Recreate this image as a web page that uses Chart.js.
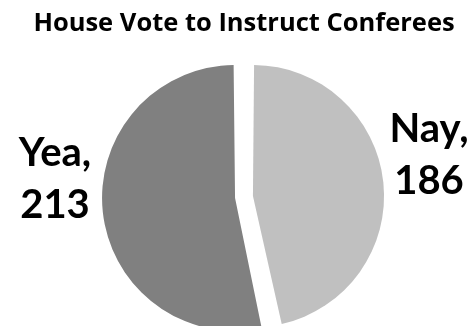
<!DOCTYPE html>
<html>
<head>
<meta charset="utf-8">
<title>House Vote to Instruct Conferees</title>
<script src="https://cdn.jsdelivr.net/npm/chart.js@4"></script>
<style>
  html, body { margin: 0; padding: 0; background: #fff; }
  #chart { display: block; }
</style>
</head>
<body>
<canvas id="chart" width="473" height="326"></canvas>
<script>
// Vote counts
const categories = ['Nay', 'Yea'];
const votes = [186, 213];
const sliceColors = ['#c0c0c0', '#808080'];

// Two-line labels beside each slice ("Nay," / "186")
const sliceLabels = {
  id: 'sliceLabels',
  afterDatasetsDraw(chart, args, opts) {
    const ctx = chart.ctx;
    const arcs = chart.getDatasetMeta(0).data;
    ctx.save();
    ctx.fillStyle = '#000';
    ctx.font = 'bold ' + opts.size + 'px ' + opts.family;
    ctx.textAlign = 'center';
    ctx.textBaseline = 'alphabetic';
    arcs.forEach((arc, i) => {
      const p = arc.getProps(['x', 'y']);
      const off = opts.anchors[i];
      const x = p.x + off[0];
      const y = p.y + off[1];
      ctx.fillText(categories[i] + ',', x, y);
      ctx.fillText(String(votes[i]), x, y + opts.lineGap);
    });
    ctx.restore();
  }
};

new Chart(document.getElementById('chart'), {
  type: 'pie',
  data: {
    labels: categories,
    datasets: [{
      data: votes,
      backgroundColor: sliceColors,
      borderWidth: 0,
      offset: 36,
      radius: 124,
      clip: false
    }]
  },
  options: {
    responsive: false,
    animation: false,
    layout: { padding: { left: 15 } },
    plugins: {
      legend: { display: false },
      tooltip: { enabled: false },
      title: {
        display: true,
        text: 'House Vote to Instruct Conferees',
        color: '#000',
        font: { family: 'Open Sans', size: 25.5, weight: 'bold' },
        padding: { top: 8, bottom: 29.4 }
      },
      sliceLabels: {
        family: 'Lato',
        size: 40,
        lineGap: 52,
        anchors: [[185, -55], [-189, -31]]
      }
    }
  },
  plugins: [sliceLabels]
});
</script>
</body>
</html>
